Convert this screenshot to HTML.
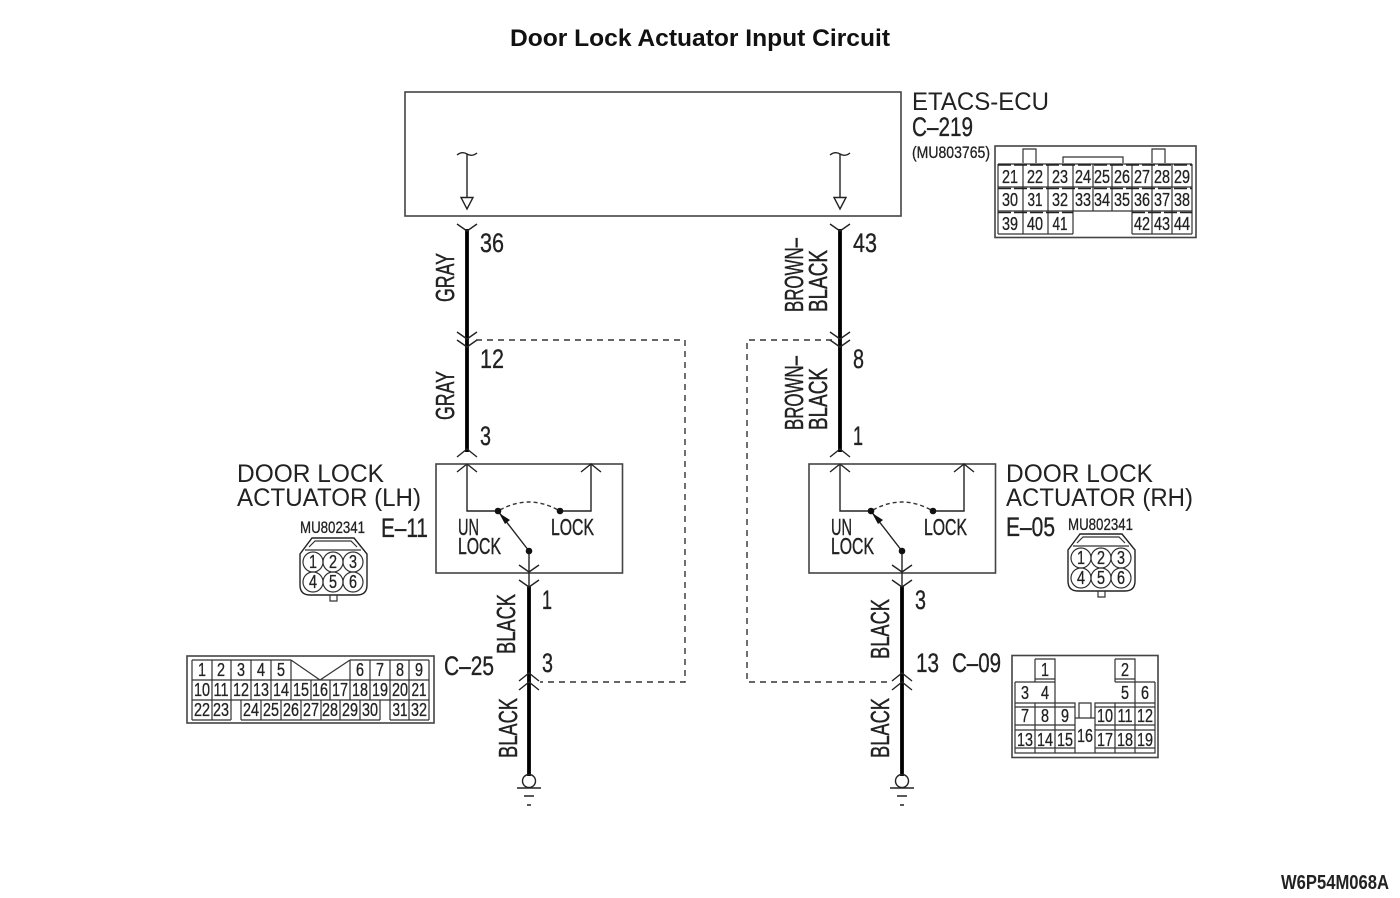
<!DOCTYPE html>
<html><head><meta charset="utf-8"><style>
html,body{margin:0;padding:0;background:#fff}
svg{display:block}
text{font-family:"Liberation Sans",sans-serif;fill:#222}
.t{font-size:25px}.n{font-size:27px;stroke:#222;stroke-width:.35}.w{font-size:26px;stroke:#222;stroke-width:.45}.s{font-size:17px;stroke:#222;stroke-width:.3}.u{font-size:23px;stroke:#222;stroke-width:.4}
.c text{font-size:18px;text-anchor:middle;stroke:#222;stroke-width:.3}
.l{fill:none;stroke:#222;stroke-width:1.4}
.b{fill:none;stroke:#444;stroke-width:1.6}
.k{fill:none;stroke:#000;stroke-width:3.8}
.d{fill:none;stroke:#333;stroke-width:1.4;stroke-dasharray:6 5}
.g{fill:none;stroke:#333;stroke-width:1.2}
.f{fill:#111}
</style></head><body>
<svg xmlns="http://www.w3.org/2000/svg" width="1400" height="898" viewBox="0 0 1400 898">
<rect width="1400" height="898" fill="#fff"/>
<text x="510" y="46" font-size="24" font-weight="bold" textLength="380" lengthAdjust="spacingAndGlyphs" style="fill:#111">Door Lock Actuator Input Circuit</text>

<!-- ECU -->
<rect class="b" x="405" y="92" width="496" height="124"/>
<path class="l" d="M457 155q5-4 10-1t10-1M467 154V198M461 197.500H473L467 209Z"/>
<path class="l" d="M830 155q5-4 10-1t10-1M840 154V198M834 197.500H846L840 209Z"/>
<text class="t" x="912" y="110" textLength="137" lengthAdjust="spacingAndGlyphs">ETACS-ECU</text>
<text class="n" x="912" y="136" textLength="61" lengthAdjust="spacingAndGlyphs">C–219</text>
<text class="s" x="912" y="158" textLength="78" lengthAdjust="spacingAndGlyphs">(MU803765)</text>

<!-- wires -->
<path class="k" d="M467 229V452M840 229V452M529 586V776M902 586V776"/>
<path class="l" d="M457 224L467 231L477 224M830 224L840 231L850 224"/>
<path class="l" d="M457 332L467 339L477 332M457 340L467 347L477 340M830 332L840 339L850 332M830 340L840 347L850 340"/>
<path class="l" d="M457 457L467 449L477 457M457 472L467 464L477 472M830 457L840 449L850 457M830 472L840 464L850 472"/>
<path class="l" d="M519 681L529 673L539 681M519 690L529 682L539 690M892 681L902 673L912 681M892 690L902 682L912 690"/>
<path class="d" d="M476 340H685V682H540M832 340H747V682H892"/>

<!-- left actuator -->
<rect class="b" x="436" y="464" width="186.500" height="109"/>
<path class="l" d="M467 464V511H498M560 511H591V465M581 472L591 464L601 472"/>
<path class="l" d="M529 551L498 511M529 551V586M519 565L529 572L539 565M519 580L529 587L539 580"/>
<path class="d" style="stroke-dasharray:4 3" d="M500 510Q529 494 558 510"/>
<circle class="f" cx="498" cy="511" r="3.300"/><circle class="f" cx="560" cy="511" r="3.300"/><circle class="f" cx="529" cy="551" r="3.300"/>
<path class="f" d="M499 513L510 520L505 524Z"/>
<text class="u" x="458" y="535" textLength="21" lengthAdjust="spacingAndGlyphs">UN</text>
<text class="u" x="458" y="554" textLength="43" lengthAdjust="spacingAndGlyphs">LOCK</text>
<text class="u" x="551" y="535" textLength="43" lengthAdjust="spacingAndGlyphs">LOCK</text>
<text class="t" x="237" y="482" textLength="147" lengthAdjust="spacingAndGlyphs">DOOR LOCK</text>
<text class="t" x="237" y="506" textLength="184" lengthAdjust="spacingAndGlyphs">ACTUATOR (LH)</text>
<text class="s" x="300" y="533" textLength="65" lengthAdjust="spacingAndGlyphs">MU802341</text>
<text class="n" x="381" y="537" textLength="47" lengthAdjust="spacingAndGlyphs">E–11</text>

<!-- right actuator -->
<rect class="b" x="809" y="464" width="186.500" height="109"/>
<path class="l" d="M840 464V511H871M933 511H964V465M954 472L964 464L974 472"/>
<path class="l" d="M902 551L871 511M902 551V586M892 565L902 572L912 565M892 580L902 587L912 580"/>
<path class="d" style="stroke-dasharray:4 3" d="M873 510Q902 494 931 510"/>
<circle class="f" cx="871" cy="511" r="3.300"/><circle class="f" cx="933" cy="511" r="3.300"/><circle class="f" cx="902" cy="551" r="3.300"/>
<path class="f" d="M872 513L883 520L878 524Z"/>
<text class="u" x="831" y="535" textLength="21" lengthAdjust="spacingAndGlyphs">UN</text>
<text class="u" x="831" y="554" textLength="43" lengthAdjust="spacingAndGlyphs">LOCK</text>
<text class="u" x="924" y="535" textLength="43" lengthAdjust="spacingAndGlyphs">LOCK</text>
<text class="t" x="1006" y="482" textLength="147" lengthAdjust="spacingAndGlyphs">DOOR LOCK</text>
<text class="t" x="1006" y="506" textLength="187" lengthAdjust="spacingAndGlyphs">ACTUATOR (RH)</text>
<text class="s" x="1068" y="530" textLength="65" lengthAdjust="spacingAndGlyphs">MU802341</text>
<text class="n" x="1006" y="536" textLength="49" lengthAdjust="spacingAndGlyphs">E–05</text>

<!-- grounds -->
<circle class="l" cx="529" cy="781" r="6.500"/>
<path class="l" d="M517 788H541M524 796H534M527 805H531"/>
<circle class="l" cx="902" cy="781" r="6.500"/>
<path class="l" d="M890 788H914M897 796H907M900 805H904"/>

<!-- pin numbers -->
<text class="n" x="480" y="252" textLength="24" lengthAdjust="spacingAndGlyphs">36</text>
<text class="n" x="480" y="368" textLength="24" lengthAdjust="spacingAndGlyphs">12</text>
<text class="n" x="480" y="445" textLength="11" lengthAdjust="spacingAndGlyphs">3</text>
<text class="n" x="853" y="252" textLength="24" lengthAdjust="spacingAndGlyphs">43</text>
<text class="n" x="853" y="368" textLength="11" lengthAdjust="spacingAndGlyphs">8</text>
<text class="n" x="853" y="445" textLength="10" lengthAdjust="spacingAndGlyphs">1</text>
<text class="n" x="542" y="609" textLength="10" lengthAdjust="spacingAndGlyphs">1</text>
<text class="n" x="542" y="672" textLength="11" lengthAdjust="spacingAndGlyphs">3</text>
<text class="n" x="915" y="609" textLength="11" lengthAdjust="spacingAndGlyphs">3</text>
<text class="n" x="916" y="672" textLength="23" lengthAdjust="spacingAndGlyphs">13</text>
<text class="n" x="444" y="675" textLength="50" lengthAdjust="spacingAndGlyphs">C–25</text>
<text class="n" x="952" y="672" textLength="49" lengthAdjust="spacingAndGlyphs">C–09</text>

<!-- wire colours -->
<text class="w" transform="translate(454,302) rotate(-90)" textLength="49" lengthAdjust="spacingAndGlyphs">GRAY</text>
<text class="w" transform="translate(454,420) rotate(-90)" textLength="49" lengthAdjust="spacingAndGlyphs">GRAY</text>
<text class="w" transform="translate(803,312) rotate(-90)" textLength="74" lengthAdjust="spacingAndGlyphs">BROWN–</text>
<text class="w" transform="translate(827,312) rotate(-90)" textLength="62" lengthAdjust="spacingAndGlyphs">BLACK</text>
<text class="w" transform="translate(803,430) rotate(-90)" textLength="74" lengthAdjust="spacingAndGlyphs">BROWN–</text>
<text class="w" transform="translate(827,430) rotate(-90)" textLength="62" lengthAdjust="spacingAndGlyphs">BLACK</text>
<text class="w" transform="translate(515,654) rotate(-90)" textLength="60" lengthAdjust="spacingAndGlyphs">BLACK</text>
<text class="w" transform="translate(517,758) rotate(-90)" textLength="60" lengthAdjust="spacingAndGlyphs">BLACK</text>
<text class="w" transform="translate(889,659) rotate(-90)" textLength="60" lengthAdjust="spacingAndGlyphs">BLACK</text>
<text class="w" transform="translate(889,758) rotate(-90)" textLength="60" lengthAdjust="spacingAndGlyphs">BLACK</text>

<!-- C-219 connector -->
<rect class="b" x="995" y="146" width="201" height="91.500"/>
<path class="g" d="M1023 163V149H1036V163M1063 163V157H1123V163M1152 163V149H1165V163"/>
<path class="g" d="M998 164H1192M998 187H1192M998 211H1073M1132 211H1192M998 234H1073M1132 234H1192M998 164V234M1023 164V234M1048 164V234M1073 164V234M1093 164V211M1112 164V211M1132 164V234M1152 164V234M1172 164V234M1192 164V234M1073 211H1132"/>
<path d="M998 165H1192M998 188.500H1192M998 212.500H1073M1132 212.500H1192" fill="none" stroke="#222" stroke-width="1.500" stroke-dasharray="13 3"/>
<g class="c">
<text x="1010" y="183" textLength="16" lengthAdjust="spacingAndGlyphs">21</text><text x="1035" y="183" textLength="16" lengthAdjust="spacingAndGlyphs">22</text><text x="1060" y="183" textLength="16" lengthAdjust="spacingAndGlyphs">23</text><text x="1083" y="183" textLength="16" lengthAdjust="spacingAndGlyphs">24</text><text x="1102" y="183" textLength="16" lengthAdjust="spacingAndGlyphs">25</text><text x="1122" y="183" textLength="16" lengthAdjust="spacingAndGlyphs">26</text><text x="1142" y="183" textLength="16" lengthAdjust="spacingAndGlyphs">27</text><text x="1162" y="183" textLength="16" lengthAdjust="spacingAndGlyphs">28</text><text x="1182" y="183" textLength="16" lengthAdjust="spacingAndGlyphs">29</text>
<text x="1010" y="206" textLength="16" lengthAdjust="spacingAndGlyphs">30</text><text x="1035" y="206" textLength="15" lengthAdjust="spacingAndGlyphs">31</text><text x="1060" y="206" textLength="16" lengthAdjust="spacingAndGlyphs">32</text><text x="1083" y="206" textLength="16" lengthAdjust="spacingAndGlyphs">33</text><text x="1102" y="206" textLength="16" lengthAdjust="spacingAndGlyphs">34</text><text x="1122" y="206" textLength="16" lengthAdjust="spacingAndGlyphs">35</text><text x="1142" y="206" textLength="16" lengthAdjust="spacingAndGlyphs">36</text><text x="1162" y="206" textLength="16" lengthAdjust="spacingAndGlyphs">37</text><text x="1182" y="206" textLength="16" lengthAdjust="spacingAndGlyphs">38</text>
<text x="1010" y="230" textLength="16" lengthAdjust="spacingAndGlyphs">39</text><text x="1035" y="230" textLength="16" lengthAdjust="spacingAndGlyphs">40</text><text x="1060" y="230" textLength="15" lengthAdjust="spacingAndGlyphs">41</text><text x="1142" y="230" textLength="16" lengthAdjust="spacingAndGlyphs">42</text><text x="1162" y="230" textLength="16" lengthAdjust="spacingAndGlyphs">43</text><text x="1182" y="230" textLength="16" lengthAdjust="spacingAndGlyphs">44</text>
</g>

<!-- C-25 connector -->
<rect class="b" x="187" y="656" width="247" height="67"/>
<path class="g" d="M192 660H291M350 660H429M192 680H429M192 700H429M192 720H231M241 720H380M390 720H429M192 660V720M429 660V720M212 660V720M231 660V720M251 660V680M271 660V680M291 660V680M350 660V680M370 660V680M390 660V680M409 660V700M212 680V700M231 680V700M251 680V700M271 680V700M291 680V700M311 680V700M330 680V700M350 680V700M370 680V700M390 680V700M241 700V720M261 700V720M281 700V720M301 700V720M321 700V720M340 700V720M360 700V720M380 700V720M390 700V720M409 700V720M291 660L320 680L350 660"/>
<g class="c">
<text x="202" y="676" textLength="8" lengthAdjust="spacingAndGlyphs">1</text><text x="221" y="676" textLength="8" lengthAdjust="spacingAndGlyphs">2</text><text x="241" y="676" textLength="8" lengthAdjust="spacingAndGlyphs">3</text><text x="261" y="676" textLength="8" lengthAdjust="spacingAndGlyphs">4</text><text x="281" y="676" textLength="8" lengthAdjust="spacingAndGlyphs">5</text><text x="360" y="676" textLength="8" lengthAdjust="spacingAndGlyphs">6</text><text x="380" y="676" textLength="8" lengthAdjust="spacingAndGlyphs">7</text><text x="400" y="676" textLength="8" lengthAdjust="spacingAndGlyphs">8</text><text x="419" y="676" textLength="8" lengthAdjust="spacingAndGlyphs">9</text>
<text x="202" y="696" textLength="16" lengthAdjust="spacingAndGlyphs">10</text><text x="221" y="696" textLength="15" lengthAdjust="spacingAndGlyphs">11</text><text x="241" y="696" textLength="16" lengthAdjust="spacingAndGlyphs">12</text><text x="261" y="696" textLength="16" lengthAdjust="spacingAndGlyphs">13</text><text x="281" y="696" textLength="16" lengthAdjust="spacingAndGlyphs">14</text><text x="301" y="696" textLength="16" lengthAdjust="spacingAndGlyphs">15</text><text x="320" y="696" textLength="16" lengthAdjust="spacingAndGlyphs">16</text><text x="340" y="696" textLength="16" lengthAdjust="spacingAndGlyphs">17</text><text x="360" y="696" textLength="16" lengthAdjust="spacingAndGlyphs">18</text><text x="380" y="696" textLength="16" lengthAdjust="spacingAndGlyphs">19</text><text x="400" y="696" textLength="16" lengthAdjust="spacingAndGlyphs">20</text><text x="419" y="696" textLength="15" lengthAdjust="spacingAndGlyphs">21</text>
<text x="202" y="716" textLength="16" lengthAdjust="spacingAndGlyphs">22</text><text x="221" y="716" textLength="16" lengthAdjust="spacingAndGlyphs">23</text><text x="251" y="716" textLength="16" lengthAdjust="spacingAndGlyphs">24</text><text x="271" y="716" textLength="16" lengthAdjust="spacingAndGlyphs">25</text><text x="291" y="716" textLength="16" lengthAdjust="spacingAndGlyphs">26</text><text x="311" y="716" textLength="16" lengthAdjust="spacingAndGlyphs">27</text><text x="330" y="716" textLength="16" lengthAdjust="spacingAndGlyphs">28</text><text x="350" y="716" textLength="16" lengthAdjust="spacingAndGlyphs">29</text><text x="370" y="716" textLength="16" lengthAdjust="spacingAndGlyphs">30</text><text x="400" y="716" textLength="15" lengthAdjust="spacingAndGlyphs">31</text><text x="419" y="716" textLength="16" lengthAdjust="spacingAndGlyphs">32</text>
</g>

<!-- C-09 connector -->
<rect class="b" x="1012" y="655.500" width="146" height="102"/>
<path class="g" d="M1035 659H1055V707M1115 659H1135V707M1035 659V682M1115 659V682M1035 679H1055M1035 682H1055M1115 679H1135M1115 682H1135M1015 682H1035M1135 682H1155M1015 682V753H1155V682M1015 703H1075V707M1095 707V703H1155M1015 707H1075M1095 707H1155M1035 703V753M1055 707V753M1075 707V753M1095 707V753M1115 703V753M1135 703V753M1015 725H1075M1095 725H1155M1015 730H1075M1095 730H1155M1015 748H1075M1095 748H1155M1075 718H1095M1079 718V703H1091V718"/>
<g class="c">
<text x="1045" y="676" textLength="8" lengthAdjust="spacingAndGlyphs">1</text><text x="1125" y="676" textLength="8" lengthAdjust="spacingAndGlyphs">2</text>
<text x="1025" y="699" textLength="8" lengthAdjust="spacingAndGlyphs">3</text><text x="1045" y="699" textLength="8" lengthAdjust="spacingAndGlyphs">4</text><text x="1125" y="699" textLength="8" lengthAdjust="spacingAndGlyphs">5</text><text x="1145" y="699" textLength="8" lengthAdjust="spacingAndGlyphs">6</text>
<text x="1025" y="722" textLength="8" lengthAdjust="spacingAndGlyphs">7</text><text x="1045" y="722" textLength="8" lengthAdjust="spacingAndGlyphs">8</text><text x="1065" y="722" textLength="8" lengthAdjust="spacingAndGlyphs">9</text><text x="1105" y="722" textLength="16" lengthAdjust="spacingAndGlyphs">10</text><text x="1125" y="722" textLength="15" lengthAdjust="spacingAndGlyphs">11</text><text x="1145" y="722" textLength="16" lengthAdjust="spacingAndGlyphs">12</text>
<text x="1025" y="746" textLength="16" lengthAdjust="spacingAndGlyphs">13</text><text x="1045" y="746" textLength="16" lengthAdjust="spacingAndGlyphs">14</text><text x="1065" y="746" textLength="16" lengthAdjust="spacingAndGlyphs">15</text><text x="1085" y="742" textLength="16" lengthAdjust="spacingAndGlyphs">16</text><text x="1105" y="746" textLength="16" lengthAdjust="spacingAndGlyphs">17</text><text x="1125" y="746" textLength="16" lengthAdjust="spacingAndGlyphs">18</text><text x="1145" y="746" textLength="16" lengthAdjust="spacingAndGlyphs">19</text>
</g>

<!-- six-pin connector LH -->
<g>
<path class="l" d="M312 538H354L367 554V585Q367 595 357 595H310Q300 595 300 585V554Z"/>
<path class="g" d="M309 547L315 541H351L357 547M305 550H361M330 595V601H337V595"/>
<circle class="g" cx="313" cy="562" r="10"/><circle class="g" cx="333" cy="562" r="10"/><circle class="g" cx="353" cy="562" r="10"/>
<circle class="g" cx="313" cy="582" r="10"/><circle class="g" cx="333" cy="582" r="10"/><circle class="g" cx="353" cy="582" r="10"/>
<g class="c">
<text x="313" y="568" textLength="8" lengthAdjust="spacingAndGlyphs">1</text><text x="333" y="568" textLength="8" lengthAdjust="spacingAndGlyphs">2</text><text x="353" y="568" textLength="8" lengthAdjust="spacingAndGlyphs">3</text>
<text x="313" y="588" textLength="8" lengthAdjust="spacingAndGlyphs">4</text><text x="333" y="588" textLength="8" lengthAdjust="spacingAndGlyphs">5</text><text x="353" y="588" textLength="8" lengthAdjust="spacingAndGlyphs">6</text>
</g>
</g>
<!-- six-pin connector RH -->
<g transform="translate(768,-4)">
<path class="l" d="M312 538H354L367 554V585Q367 595 357 595H310Q300 595 300 585V554Z"/>
<path class="g" d="M309 547L315 541H351L357 547M305 550H361M330 595V601H337V595"/>
<circle class="g" cx="313" cy="562" r="10"/><circle class="g" cx="333" cy="562" r="10"/><circle class="g" cx="353" cy="562" r="10"/>
<circle class="g" cx="313" cy="582" r="10"/><circle class="g" cx="333" cy="582" r="10"/><circle class="g" cx="353" cy="582" r="10"/>
<g class="c">
<text x="313" y="568" textLength="8" lengthAdjust="spacingAndGlyphs">1</text><text x="333" y="568" textLength="8" lengthAdjust="spacingAndGlyphs">2</text><text x="353" y="568" textLength="8" lengthAdjust="spacingAndGlyphs">3</text>
<text x="313" y="588" textLength="8" lengthAdjust="spacingAndGlyphs">4</text><text x="333" y="588" textLength="8" lengthAdjust="spacingAndGlyphs">5</text><text x="353" y="588" textLength="8" lengthAdjust="spacingAndGlyphs">6</text>
</g>
</g>

<text x="1281" y="889" font-size="20" font-weight="bold" textLength="108" lengthAdjust="spacingAndGlyphs">W6P54M068A</text>
</svg>
</body></html>
